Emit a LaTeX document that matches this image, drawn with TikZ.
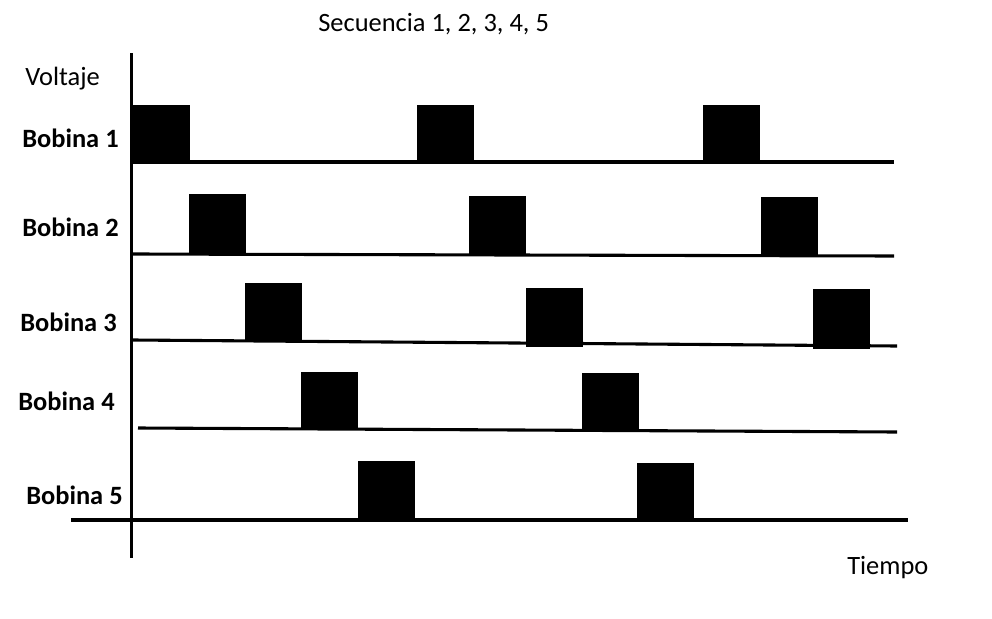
\documentclass[tikz,border=0pt]{standalone}
\usepackage{fontspec}
\setmainfont{Carlito}
\begin{document}
\begin{tikzpicture}[x=0.025cm,y=-0.025cm,line cap=butt,line join=miter]
  \tikzset{
    lbl/.style={anchor=base west,inner sep=0pt,font=\fontsize{18.8}{22}\selectfont},
    coil/.style={lbl,font=\fontsize{18.8}{22}\selectfont\bfseries},
    trace/.style={line width=2.2pt}
  }
  \useasboundingbox (0,0) rectangle (992,618);
  % titles and axis labels
  \node[lbl] (title) at (318,31) {Secuencia 1, 2, 3, 4, 5};
  \node[lbl] (volt) at (25,85) {Voltaje};
  \node[lbl] (time) at (847,574) {Tiempo};
  \node[coil] (b1) at (22,147) {Bobina 1};
  \node[coil] (b2) at (22,236) {Bobina 2};
  \node[coil] (b3) at (20,331) {Bobina 3};
  \node[coil] (b4) at (18,410) {Bobina 4};
  \node[coil] (b5) at (26,504) {Bobina 5};
  % voltage axis
  \draw[trace] (131.5,53)--(131.5,558);
  % baselines, one per coil
  \draw[trace] (133,162)--(894,162);
  \draw[trace] (133,254)--(894,256);
  \draw[trace] (133,340)--(897,346);
  \draw[trace] (138,428)--(897,432);
  \draw[trace] (71,520)--(908,520);
  % pulses: left edge / top / bottom
  \foreach \x/\t/\b in {133/105/162, 417/105/162, 703/105/162,
                         189/194/254, 469/196/255, 761/197/256,
                         245/283/341, 526/288/347, 813/289/349,
                         301/372/429, 582/373/432,
                         358/461/520, 637/463/520}
    \fill (\x,\t) rectangle (\x+57,\b);
\end{tikzpicture}
\end{document}
